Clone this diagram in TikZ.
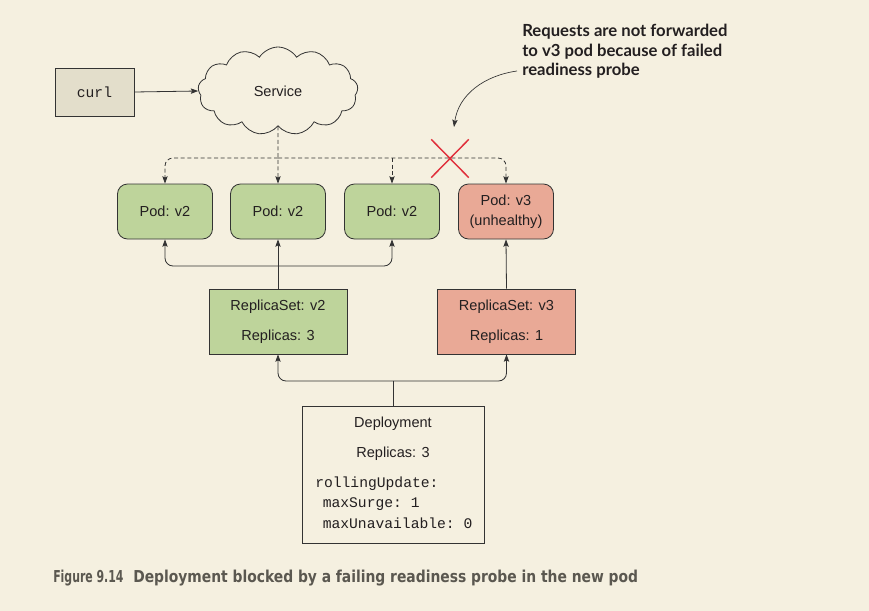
\documentclass[tikz,border=0pt]{standalone}
\usepackage{fontspec}
\setmainfont{Liberation Sans}
\setmonofont{Liberation Mono}
\newfontfamily\calloutfont{Lato}
\newfontfamily\capfont{DejaVu Sans Condensed}
\usetikzlibrary{arrows.meta,shapes.symbols,shapes.misc}
\definecolor{bg}{HTML}{F5F0E0}
\definecolor{linec}{HTML}{333333}
\definecolor{podgreen}{HTML}{BED49B}
\definecolor{podred}{HTML}{E9A996}
\definecolor{curlfill}{HTML}{E3DECB}
\definecolor{xred}{HTML}{E0303C}
\definecolor{capc}{HTML}{5B5850}
\definecolor{notec}{HTML}{231F20}
\begin{document}
\begin{tikzpicture}[x=0.75pt,y=-0.75pt,
  every node/.style={font=\fontsize{10.9}{15}\selectfont, text=notec},
  pod/.style={draw=linec, line width=0.6pt, rounded corners=7.5pt, minimum width=71.25pt, minimum height=41.25pt, fill=podgreen, inner sep=0pt, align=center},
  rsbox/.style={draw=linec, line width=0.6pt, minimum width=103.5pt, minimum height=48.75pt, inner sep=0pt, align=center, font=\fontsize{10.9}{22.5}\selectfont},
  tip/.style={-{Stealth[length=5.5pt,width=4pt,inset=1pt]}},
  conn/.style={draw=linec, line width=0.6pt, tip},
  dconn/.style={conn, dash pattern=on 3pt off 2pt},
  plain/.style={draw=linec, line width=0.6pt},
  mono/.style={font=\ttfamily\fontsize{11}{14}\selectfont, anchor=west, inner sep=0pt},
  notetext/.style={font=\calloutfont\bfseries\fontsize{12.5}{14.6}\selectfont, text=notec, anchor=base west, inner sep=0pt},
  captext/.style={font=\capfont\bfseries\fontsize{12.3}{14}\selectfont, text=capc, anchor=base west, inner sep=0pt},
]
\fill[bg] (0,0) rectangle (869,611);
\useasboundingbox (0,0) rectangle (869,611);

% top row
\node[draw=linec, line width=0.6pt, fill=curlfill, minimum width=59.25pt, minimum height=36pt, inner sep=0pt, font=\ttfamily\fontsize{11}{14}\selectfont] (curl) at (94.5,92) {curl};
\node[cloud, draw=linec, line width=0.6pt, fill=bg, cloud puffs=13, cloud puff arc=115, aspect=1.8, minimum width=120pt, minimum height=66pt, inner sep=0pt] (svc) at (278,91) {Service};

% pods
\node[pod] (p1) at (165,211.5) {Pod: v2};
\node[pod] (p2) at (278,211.5) {Pod: v2};
\node[pod] (p3) at (392,211.5) {Pod: v2};
\node[pod, fill=podred] (p4) at (506,211.5) {Pod: v3\\(unhealthy)};

% replica sets
\node[rsbox, fill=podgreen] (rs2) at (278,321.5) {ReplicaSet: v2\\Replicas: 3};
\node[rsbox, fill=podred] (rs3) at (506.5,321.5) {ReplicaSet: v3\\Replicas: 1};

% deployment
\node[draw=linec, line width=0.6pt, minimum width=136.5pt, minimum height=102.75pt, inner sep=0pt] (dep) at (393,474.5) {};
\node (dt1) at (393,424) {Deployment};
\node (dt2) at (393,454) {Replicas: 3};
\node[mono] (dt3) at (315,484) {rollingUpdate:};
\node[mono] (dt4) at (322.5,504) {maxSurge: 1};
\node[mono] (dt5) at (322.5,523) {maxUnavailable: 0};

% connectors
\draw[conn] (curl.east) -- (svc.west);
\coordinate (tj) at (278,158);
\draw[dconn] (svc.south) -- (p2.north);
\draw[dconn, rounded corners=6pt] (tj) -| (p1.north);
\draw[dconn, rounded corners=6pt] (tj) -| (p4.north);
\draw[dconn] (p3.north |- tj) -- (p3.north);

\coordinate (sj) at (278,266);
\draw[conn] (rs2.north) -- (p2.south);
\draw[conn, rounded corners=6pt] (sj) -| (p1.south);
\draw[conn, rounded corners=6pt] (sj) -| (p3.south);
\draw[conn] (rs3.north) -- (p4.south);

\coordinate (dj) at (393,381);
\draw[plain] (dep.north) -- (dj);
\draw[conn, rounded corners=6pt] (dj) -| (rs2.south);
\draw[conn, rounded corners=6pt] (dj) -| (rs3.south);

% red cross
\node[cross out, draw=xred, line width=1.1pt, minimum width=27pt, minimum height=27.5pt, inner sep=0pt] (xx) at (450,158.5) {};

% callout
\node[notetext] (n1) at (522,36.7) {Requests are not forwarded};
\node[notetext] (n2) at (522,56.2) {to v3 pod because of failed};
\node[notetext] (n3) at (522,75.7) {readiness probe};
\coordinate (cstart) at (517,71);
\coordinate (ctip) at (454,127);
\draw[draw=linec, line width=0.5pt, tip] (cstart) to[out=188, in=82] (ctip);

% caption
\node[captext] (figlab) at (53,582) {\scalebox{0.74}[1]{Figure 9.14}};
\node[captext] (figcap) at (133,582) {\scalebox{0.94}[1]{Deployment blocked by a failing readiness probe in the new pod}};
\end{tikzpicture}
\end{document}
